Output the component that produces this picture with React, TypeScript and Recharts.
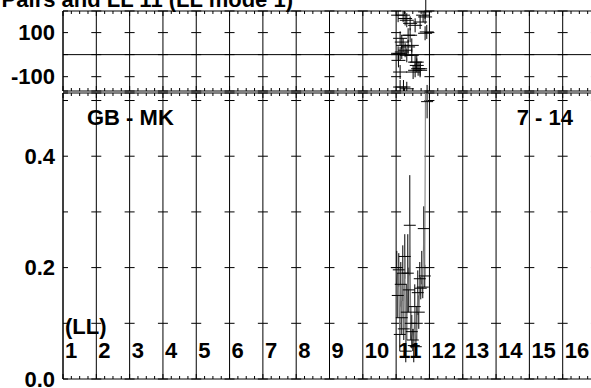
import React from "react";
import { ComposedChart, Scatter, XAxis, YAxis, CartesianGrid, ErrorBar, ReferenceLine } from "recharts";

// channel columns (LL 1..16), boundaries at integer positions
const channelLabels = ["1", "2", "3", "4", "5", "6", "7", "8", "9", "10", "11", "12", "13", "14", "15", "16"];
const channelEdges = [0, 1, 2, 3, 4, 5, 6, 7, 8, 9, 10, 11, 12, 13, 14, 15, 16];

const phaseTicks = [-100, 0, 100];
const ampTicks = [0, 0.1, 0.2, 0.3, 0.4, 0.5];
const ampLabelled = [0, 0.2, 0.4];

// phase (deg) points inside column 11
const phaseX = [10.06, 10.06, 10.07, 10.12, 10.12, 10.12, 10.12, 10.17, 10.17, 10.21, 10.21, 10.22, 10.27, 10.27, 10.32, 10.32, 10.32, 10.36, 10.36, 10.42, 10.42, 10.47, 10.47, 10.51, 10.57, 10.57, 10.57, 10.62, 10.62, 10.66, 10.72, 10.72, 10.72, 10.81, 10.87, 10.87, 10.87, 10.92];
const phaseY = [179, 6, -26, 74, 4, -79, -147, 57, 12, 179, 42, -147, 164, 20, 156, -3, -155, 88, 35, 142, 88, 42, -3, -79, 133, -34, -71, -34, -49, -64, 148, -64, -71, 179, 194, 171, 97, 103];

// amplitude points inside column 11
const ampX = [10.02, 10.05, 10.08, 10.11, 10.14, 10.17, 10.2, 10.23, 10.26, 10.29, 10.32, 10.35, 10.38, 10.41, 10.44, 10.47, 10.5, 10.53, 10.56, 10.59, 10.62, 10.65, 10.68, 10.71, 10.74, 10.77, 10.8, 10.83, 10.86, 10.89, 10.93];
const ampY = [0.2, 0.15, 0.196, 0.08, 0.17, 0.11, 0.19, 0.09, 0.22, 0.05, 0.12, 0.19, 0.16, 0.276, 0.1, 0.085, 0.07, 0.06, 0.13, 0.058, 0.1, 0.155, 0.12, 0.18, 0.163, 0.2, 0.165, 0.27, 0.185, 0.7, 0.498];
const ampErr = [0.03, 0.04, 0.03, 0.03, 0.04, 0.03, 0.05, 0.02, 0.04, 0.02, 0.05, 0.07, 0.04, 0.09, 0.03, 0.03, 0.02, 0.03, 0.04, 0.02, 0.03, 0.04, 0.03, 0.03, 0.02, 0.03, 0.02, 0.04, 0.02, 0.05, 0.03];

const phaseData = phaseX.map((x, i) => ({ x, y: phaseY[i] }));
const ampData = ampX.map((x, i) => ({ x, y: ampY[i], err: ampErr[i] }));
const minorTicks = Array.from({ length: 65 }, (_, i) => i / 4);

const FONT = "'Liberation Sans', Arial, sans-serif";
const labelStyle = { fontFamily: FONT, fontWeight: 700, fontSize: 22, fill: "#000" };
const dash = "5 23.31 5 0";

const PhaseCross = (props: any) => {
  const { cx, cy } = props;
  if (cx == null || cy == null) return <g />;
  return (
    <g stroke="#000" strokeWidth={1}>
      <line x1={cx - 7} y1={cy} x2={cx + 7} y2={cy} />
      <line x1={cx} y1={cy - 7} x2={cx} y2={cy + 7} />
    </g>
  );
};

const AmpCross = (props: any) => {
  const { cx, cy } = props;
  if (cx == null || cy == null) return <g />;
  return (
    <g stroke="#000" strokeWidth={1}>
      <line x1={cx - 6} y1={cy} x2={cx + 6} y2={cy} />
    </g>
  );
};

// inward tick marks on a frame edge; optionally the channel labels
const makeTick = (edgeY: number, dir: number, labels: boolean) => (props: any) => {
  const { payload, index } = props;
  const v = Number(payload?.value);
  const px = Number(payload?.coordinate ?? props.x);
  if (!Number.isFinite(px)) return <g key={`t${index}`} />;
  const len = Number.isInteger(v) ? 5 : 3;
  const showLabel = labels && Number.isInteger(v) && v <= 15;
  return (
    <g key={`t${index}`}>
      <line x1={px} x2={px} y1={edgeY} y2={edgeY + dir * len} stroke="#000" strokeWidth={1} />
      {showLabel && v === 0 && <text x={px + 2} y={334} style={labelStyle}>(LL)</text>}
      {showLabel && <text x={px + 2} y={358} style={labelStyle}>{channelLabels[v]}</text>}
    </g>
  );
};

const axisStroke = { stroke: "#000", strokeWidth: 1 };

function Panel({ plotTop, plotBottom, domain, ticks, fmt, data, amp }: any) {
  return (
    <ComposedChart width={600} height={388} margin={{ top: plotTop - 1, right: 4, bottom: 388 - plotBottom - 1, left: 0 }}>
      <XAxis xAxisId="b" dataKey="x" type="number" domain={[0, 16]} ticks={minorTicks} interval={0} orientation="bottom" height={1} axisLine={axisStroke} tickLine={false}
        tick={makeTick(plotBottom, -1, amp)} allowDataOverflow />
      <XAxis xAxisId="t" dataKey="x" type="number" domain={[0, 16]} ticks={minorTicks} interval={0} orientation="top" height={1} axisLine={axisStroke} tickLine={false}
        tick={makeTick(plotTop, 1, false)} allowDataOverflow />
      <XAxis xAxisId="g" dataKey="x" type="number" domain={[0, 16]} ticks={channelEdges} hide allowDataOverflow />
      <YAxis dataKey="y" type="number" domain={domain} ticks={ticks} interval={0} width={63} tickSize={0} tickMargin={8} tickLine={false} axisLine={axisStroke} tick={labelStyle} tickFormatter={fmt} allowDataOverflow />
      <CartesianGrid xAxisId="g" vertical={false} stroke="#000" strokeDasharray={dash} />
      <CartesianGrid xAxisId="g" horizontal={false} stroke="#000" />
      {!amp && <ReferenceLine xAxisId="g" y={0} stroke="#000" />}
      {amp ? (
        <Scatter xAxisId="g" data={data} shape={<AmpCross />} line={{ stroke: "#777", strokeWidth: 1 }} lineType="joint" isAnimationActive={false}>
          <ErrorBar dataKey="err" direction="y" width={0} stroke="#000" strokeWidth={1} />
        </Scatter>
      ) : (
        <Scatter xAxisId="g" data={data} shape={<PhaseCross />} isAnimationActive={false} />
      )}
      {/* keep the frame axes tied to the same data so they get a scale */}
      <Scatter xAxisId="b" data={data} shape={() => <g />} isAnimationActive={false} />
      <Scatter xAxisId="t" data={data} shape={() => <g />} isAnimationActive={false} />
    </ComposedChart>
  );
}

export default function App() {
  return (
    <div style={{ position: "absolute", left: 0, top: 0, width: 591, height: 388, overflow: "hidden", background: "#fff", fontFamily: FONT }}>
      <div style={{ position: "absolute", left: 0, top: 0 }}>
        <Panel plotTop={11} plotBottom={91} domain={[-165, 198]} ticks={phaseTicks} data={phaseData} amp={false}
          fmt={(v: number) => (v === 0 ? "" : String(v))} />
      </div>
      <div style={{ position: "absolute", left: 0, top: 0 }}>
        <Panel plotTop={93} plotBottom={379} domain={[0, 0.5135]} ticks={ampTicks} data={ampData} amp
          fmt={(v: number) => (ampLabelled.includes(v) ? v.toFixed(1) : "")} />
      </div>
      <svg width={591} height={388} style={{ position: "absolute", left: 0, top: 0, pointerEvents: "none" }}>
        <text x={293} y={7} textAnchor="end" style={labelStyle}>Pairs and LL 11 (LL mode 1)</text>
        <text x={87} y={125} style={labelStyle}>GB - MK</text>
        <text x={573} y={125} textAnchor="end" style={labelStyle}>7 - 14</text>
      </svg>
    </div>
  );
}
